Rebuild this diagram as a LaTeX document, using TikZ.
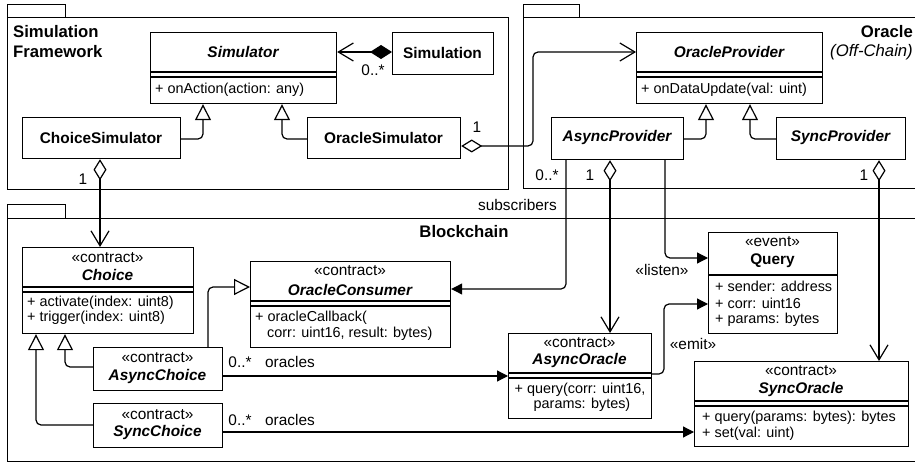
\documentclass[tikz,border=0pt]{standalone}
\usepackage{fontspec}
\setmainfont{Liberation Sans}
\usetikzlibrary{arrows.meta}
\newcommand\txtr{\fontsize{14.4}{17}\selectfont}
\newcommand\txts{\fontsize{15.4}{18}\selectfont}
\newcommand\txtb{\fontsize{15.4}{18}\selectfont\bfseries}
\newcommand\txtbi{\fontsize{15.4}{18}\selectfont\bfseries\itshape}
\newcommand\txtp{\fontsize{16.7}{20}\selectfont\bfseries}
\newcommand\txtpi{\fontsize{16.7}{20}\selectfont\itshape}
\begin{document}
\begin{tikzpicture}[x=1pt,y=-1pt,
  lw/.style={line width=1.2pt},
  pkg/.style={draw, line width=1.3pt},
  box/.style={draw, line width=1.2pt, fill=white, inner sep=0pt, anchor=north west},
  lbl/.style={inner sep=0pt, font=\txtr},
  st/.style={inner sep=0pt, font=\txts},
  nm/.style={inner sep=0pt, font=\txtb},
  nmi/.style={inner sep=0pt, font=\txtbi},
  inh/.style={lw, rounded corners=5pt, -{Triangle[open, length=16pt, width=16pt, fill=white]}},
  assoc/.style={lw, -{Straight Barb[length=15pt, width=18pt]}},
  filled/.style={lw, rounded corners=5pt, -{Triangle[length=11pt, width=11pt]}},
  comp/.style={lw, {Diamond[length=22pt, width=14pt]}-{Straight Barb[length=15pt, width=18pt]}},
  aggr/.style={lw, rounded corners=5pt, {Diamond[open, fill=white, length=21pt, width=13pt]}-{Straight Barb[length=15pt, width=18pt]}}
]
\useasboundingbox (0,0) rectangle (915,462);
\clip (0,0) rectangle (915,462);
\fill[white] (0,0) rectangle (915,462);

% packages
\node[pkg, inner sep=0pt, anchor=north west, minimum width=58pt, minimum height=13pt] (sftab) at (7,4) {};
\node[pkg, inner sep=0pt, anchor=north west, minimum width=501pt, minimum height=172pt] (sfpkg) at (7,17) {};
\node[pkg, inner sep=0pt, anchor=north west, minimum width=56pt, minimum height=13pt] (ortab) at (523,4) {};
\node[pkg, inner sep=0pt, anchor=north west, minimum width=420pt, minimum height=171pt] (orpkg) at (523,17) {};
\node[pkg, inner sep=0pt, anchor=north west, minimum width=58pt, minimum height=14pt] (bctab) at (7,204) {};
\node[pkg, inner sep=0pt, anchor=north west, minimum width=936pt, minimum height=243pt] (bcpkg) at (7,218) {};

\node[inner sep=0pt, font=\txtp, anchor=west] (sfl1) at (13,32) {Simulation};
\node[inner sep=0pt, font=\txtp, anchor=west] (sfl2) at (13,52) {Framework};
\node[inner sep=0pt, font=\txtp, anchor=east] (orl1) at (913,32) {Oracle};
\node[inner sep=0pt, font=\txtpi, anchor=east] (orl2) at (913,52) {(Off-Chain)};
\node[inner sep=0pt, font=\txtp] (bcl) at (464,232) {Blockchain};

% boxes
\node[box, minimum width=186pt, minimum height=71pt] (simulator) at (150,32) {};
\node[box, minimum width=101pt, minimum height=42pt] (simulation) at (392,32) {};
\node[box, minimum width=158pt, minimum height=41pt] (choicesim) at (22,117) {};
\node[box, minimum width=153pt, minimum height=41pt] (oraclesim) at (307,117) {};
\node[box, minimum width=186pt, minimum height=71pt] (oracleprov) at (636,32) {};
\node[box, minimum width=132pt, minimum height=42pt] (asyncprov) at (551,117) {};
\node[box, minimum width=129pt, minimum height=42pt] (syncprov) at (776,117) {};
\node[box, minimum width=171pt, minimum height=86pt] (choice) at (22,247) {};
\node[box, minimum width=200pt, minimum height=86pt] (oracleconsumer) at (250,261) {};
\node[box, minimum width=129pt, minimum height=43pt] (asyncchoice) at (93,347) {};
\node[box, minimum width=129pt, minimum height=44pt] (syncchoice) at (93,403) {};
\node[box, minimum width=129pt, minimum height=101pt] (query) at (708,232) {};
\node[box, minimum width=143pt, minimum height=85pt] (asyncoracle) at (508,333) {};
\node[box, minimum width=214pt, minimum height=85pt] (syncoracle) at (694,361) {};

% separators
\draw[lw] (simulator.west |- 0,72) -- (simulator.east |- 0,72);
\draw[lw] (simulator.west |- 0,77) -- (simulator.east |- 0,77);
\draw[lw] (oracleprov.west |- 0,72) -- (oracleprov.east |- 0,72);
\draw[lw] (oracleprov.west |- 0,77) -- (oracleprov.east |- 0,77);
\draw[lw] (choice.west |- 0,287) -- (choice.east |- 0,287);
\draw[lw] (choice.west |- 0,292) -- (choice.east |- 0,292);
\draw[lw] (oracleconsumer.west |- 0,301) -- (oracleconsumer.east |- 0,301);
\draw[lw] (oracleconsumer.west |- 0,306) -- (oracleconsumer.east |- 0,306);
\draw[lw] (query.west |- 0,275) -- (query.east |- 0,275);
\draw[lw] (asyncoracle.west |- 0,373) -- (asyncoracle.east |- 0,373);
\draw[lw] (asyncoracle.west |- 0,378) -- (asyncoracle.east |- 0,378);
\draw[lw] (syncoracle.west |- 0,401) -- (syncoracle.east |- 0,401);
\draw[lw] (syncoracle.west |- 0,406) -- (syncoracle.east |- 0,406);

% box texts
\node[nmi] (t1) at (243,52) {Simulator};
\node[lbl, anchor=west] (t2) at (155,90) {+ onAction(action: any)};
\node[nm] (t3) at (442.5,53) {Simulation};
\node[nm] (t4) at (101,138) {ChoiceSimulator};
\node[nm] (t5) at (383.5,138) {OracleSimulator};
\node[nmi] (t6) at (729,52) {OracleProvider};
\node[lbl, anchor=west] (t7) at (641,90) {+ onDataUpdate(val: uint)};
\node[nmi] (t8) at (617,138) {AsyncProvider};
\node[nmi] (t9) at (840.5,138) {SyncProvider};

\node[st] (c1) at (107.5,258) {«contract»};
\node[nmi] (c2) at (107.5,275) {Choice};
\node[lbl, anchor=west] (c3) at (27,303) {+ activate(index: uint8)};
\node[lbl, anchor=west] (c4) at (27,318) {+ trigger(index: uint8)};

\node[st] (o1) at (350,271) {«contract»};
\node[nmi] (o2) at (350,290) {OracleConsumer};
\node[lbl, anchor=west] (o3) at (255,318) {+ oracleCallback(};
\node[lbl, anchor=west] (o4) at (267,334) {corr: uint16, result: bytes)};

\node[st] (a1) at (157.5,358) {«contract»};
\node[nmi] (a2) at (157.5,377) {AsyncChoice};
\node[st] (s1) at (157.5,415) {«contract»};
\node[nmi] (s2) at (157.5,433) {SyncChoice};

\node[st] (q1) at (772.5,242) {«event»};
\node[nm] (q2) at (772.5,261) {Query};
\node[lbl, anchor=west] (q3) at (715,286) {+ sender: address};
\node[lbl, anchor=west] (q4) at (715,303) {+ corr: uint16};
\node[lbl, anchor=west] (q5) at (715,320) {+ params: bytes};

\node[st] (ao1) at (579.5,343) {«contract»};
\node[nmi] (ao2) at (579.5,361) {AsyncOracle};
\node[lbl] (ao3) at (580,390) {+ query(corr: uint16,};
\node[lbl] (ao4) at (582,405) {params: bytes)};

\node[st] (so1) at (801,371) {«contract»};
\node[nmi] (so2) at (801,390) {SyncOracle};
\node[lbl, anchor=west] (so3) at (702,418) {+ query(params: bytes): bytes};
\node[lbl, anchor=west] (so4) at (702,434) {+ set(val: uint)};

% connectors
\draw[comp] (simulation.west |- 0,52) -- (simulator.east |- 0,52);
\draw[inh] (choicesim.east |- 0,139) -| (simulator.south -| 203,0);
\draw[inh] (oraclesim.west |- 0,139) -| (simulator.south -| 282,0);
\draw[aggr] (oraclesim.east |- 0,146) -- (533,146) -- (533,52) -- (oracleprov.west |- 0,52);
\draw[aggr] (choicesim.south -| 100,0) -- (choice.north -| 100,0);
\draw[inh] (asyncprov.east |- 0,139) -| (oracleprov.south -| 706,0);
\draw[inh] (syncprov.west |- 0,139) -| (oracleprov.south -| 750,0);
\draw[filled] (asyncprov.south -| 566,0) |- (oracleconsumer.east |- 0,289);
\draw[aggr] (asyncprov.south -| 610,0) -- (asyncoracle.north -| 610,0);
\draw[filled] (asyncprov.south -| 665,0) |- (query.west |- 0,258);
\draw[aggr] (syncprov.south -| 879,0) -- (syncoracle.north -| 879,0);
\draw[inh] (asyncchoice.west |- 0,367) -| (choice.south -| 65,0);
\draw[inh] (syncchoice.west |- 0,425) -| (choice.south -| 36,0);
\draw[inh] (asyncchoice.north -| 208,0) |- (oracleconsumer.west |- 0,287);
\draw[filled] (asyncchoice.east |- 0,376) -- (asyncoracle.west |- 0,376);
\draw[filled] (syncchoice.east |- 0,432) -- (syncoracle.west |- 0,432);
\draw[filled] (asyncoracle.east |- 0,374) -- (664,374) -- (664,304) -- (query.west |- 0,304);

% connector labels
\node[st] (m1) at (373,70) {0..*};
\node[st] (m2) at (477,127) {1};
\node[st] (m3) at (83,179) {1};
\node[st] (m4) at (547,175) {0..*};
\node[st] (m5) at (590,175) {1};
\node[st] (m6) at (864,175) {1};
\node[st, anchor=east] (m7) at (557,205) {subscribers};
\node[st] (m8) at (662,270) {«listen»};
\node[st] (m9) at (693,344) {«emit»};
\node[st] (m10) at (240,362) {0..*};
\node[st] (m11) at (290,362) {oracles};
\node[st] (m12) at (240,420) {0..*};
\node[st] (m13) at (290,420) {oracles};
\end{tikzpicture}
\end{document}
